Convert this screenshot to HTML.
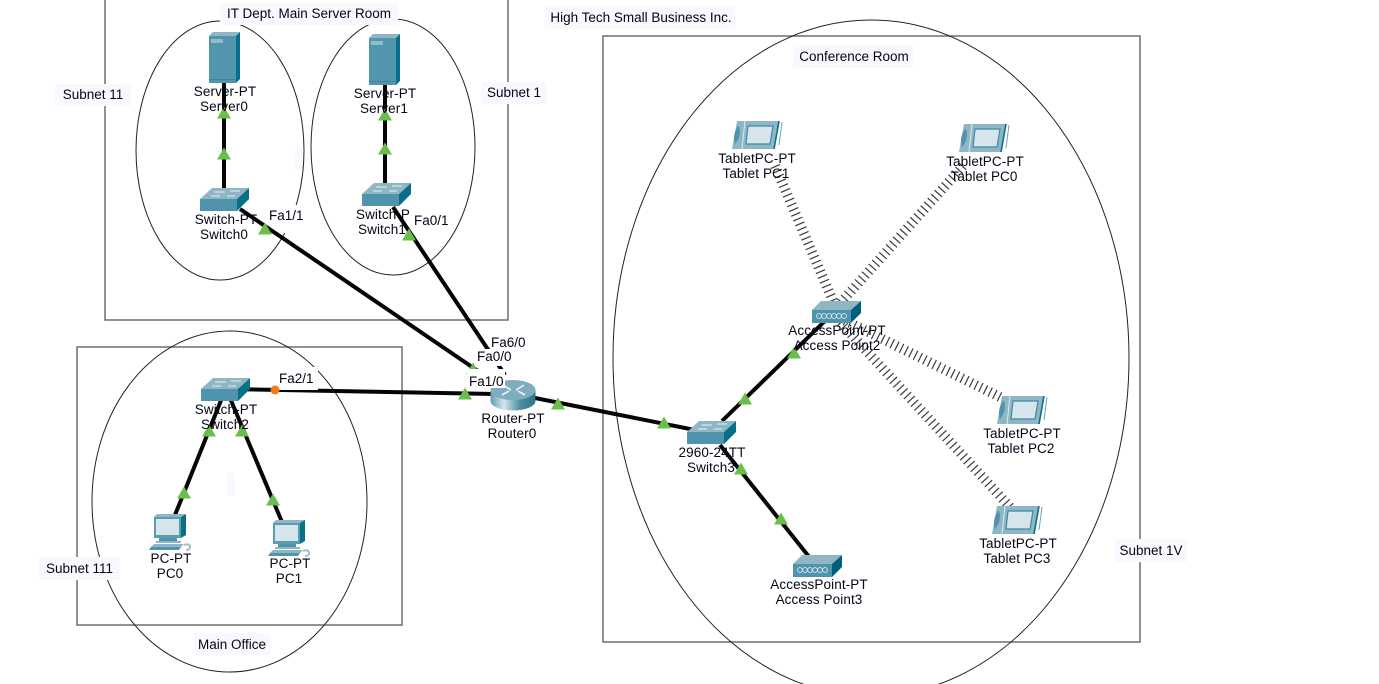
<!DOCTYPE html>
<html><head><meta charset="utf-8"><style>
html,body{margin:0;padding:0;background:#fff;width:1379px;height:684px;overflow:hidden}
svg{display:block}
text{font-family:"Liberation Sans",sans-serif;font-size:13.5px;fill:#050515}
.d{letter-spacing:.1px}
.m{text-anchor:middle}
.b{fill:#f8f8ff}
.w{fill:#fff}
.l{stroke:#050505;stroke-width:4;fill:none}
.r{fill:none;stroke:#6e6e6e;stroke-width:1.5}
.e{fill:none;stroke:#222;stroke-width:1}
.wl{stroke:#3a3a3a;stroke-width:10;stroke-dasharray:1.2 4;fill:none}
</style></head><body>
<svg width="1379" height="684" viewBox="0 0 1379 684" xmlns="http://www.w3.org/2000/svg">
<defs>
<linearGradient id="rg" x1="0" x2="1"><stop offset="0" stop-color="#5f9db0"/><stop offset=".3" stop-color="#d5e6ea"/><stop offset=".65" stop-color="#4f8ea3"/><stop offset="1" stop-color="#2f7488"/></linearGradient>
<g id="sw">
<polygon points="0,11 12,0 49,0 37,11" fill="#8fb6c4"/>
<rect x="0" y="11" width="37" height="12" fill="#4f93ad"/>
<polygon points="37,11 49,0 49,11 37,23" fill="#076f87"/>
<path d="M14,4h11M30,3h10M11,8h9M27,8h8" stroke="#e6f1f4" stroke-width="1"/>
</g>
<g id="srv">
<polygon points="0,4 4,0 31,0 27,4" fill="#8fb6c4"/>
<rect x="0" y="4" width="27" height="47" fill="#5296ae"/>
<polygon points="27,4 31,0 31,47 27,51" fill="#076f87"/>
<rect x="2" y="7" width="12" height="4" fill="#93bcc9"/>
<line x1="0" y1="47.500" x2="27" y2="47.500" stroke="#3f8299" stroke-width="1"/>
</g>
<g id="ap">
<polygon points="0,9 9,0 49,0 39,9" fill="#8fb6c4"/>
<rect x="0" y="9" width="39" height="13" fill="#4f93ad"/>
<polygon points="39,9 49,0 49,12 39,22" fill="#005f7a"/>
<g fill="none" stroke="#dcecf0" stroke-width=".9"><circle cx="7" cy="15" r="2.400"/><circle cx="12" cy="15" r="2.400"/><circle cx="17" cy="15" r="2.400"/><circle cx="22" cy="15" r="2.400"/><circle cx="27" cy="15" r="2.400"/><circle cx="32" cy="15" r="2.400"/></g>
</g>
<g id="tab">
<polygon points="5,0 47,0 42,28 0,28" fill="#8fb6c4"/>
<polygon points="16,5 41,5 38,23 14,23" fill="#d6e5eb" stroke="#3f8aa3" stroke-width="1.200"/>
<path d="M6,5 Q0,14 3,23 Q10,15 7,5Z" fill="#4f93ad"/>
<path d="M13,0 L10,28" stroke="#dcecf0" stroke-width="1"/>
<path d="M47,0 L42,28" stroke="#0a6f88" stroke-width="1.600"/>
<path d="M50,1 L47,24" stroke="#6ba6b8" stroke-width="1"/>
</g>
<g id="pc">
<polygon points="5,3 8,0 37,0 32,3" fill="#8fb6c4"/>
<rect x="5" y="3" width="27" height="21" fill="#5a9cb2"/>
<polygon points="32,3 37,0 37,21 32,24" fill="#076f87"/>
<rect x="7" y="5" width="23" height="16" fill="#d6e5eb"/>
<rect x="10" y="24" width="18" height="3" fill="#4f93ad"/>
<rect x="7" y="27" width="25" height="2" fill="#8fb6c4"/>
<polygon points="5,30 35,30 32,33 2,33" fill="#8fb6c4"/>
<polygon points="2,33 32,33 30,36 0,36" fill="#4f93ad"/>
<path d="M35,31 q6,-2 6,2 q0,3 -4,3" fill="none" stroke="#a9c0ca" stroke-width="2"/>
</g>
<polygon id="t" points="0,-6.500 7,5.500 -7,5.500" fill="#6abf4b"/>
</defs>

<rect class="r" x="105" y="-2" width="403" height="322"/>
<rect class="r" x="77" y="347" width="325" height="278"/>
<rect class="r" x="603" y="36" width="537" height="606"/>
<ellipse class="e" cx="220" cy="150.500" rx="84" ry="129.500"/>
<ellipse class="e" cx="393" cy="147" rx="82" ry="128"/>
<ellipse class="e" cx="229.500" cy="501.500" rx="137.500" ry="170.500"/>
<ellipse class="e" cx="871" cy="358" rx="258" ry="338"/>

<rect class="b" x="220" y="3" width="178" height="22"/><text class="m" x="309" y="18">IT Dept. Main Server Room</text>
<rect class="b" x="55" y="84" width="76" height="22"/><text class="m" x="93" y="99">Subnet 11</text>
<rect class="b" x="481" y="82" width="66" height="22"/><text class="m" x="514" y="97">Subnet 1</text>
<rect class="b" x="545" y="6" width="190" height="23"/><text class="m" x="641" y="22">High Tech Small Business Inc.</text>
<rect class="b" x="793" y="45" width="120" height="23"/><text class="m" x="854" y="61">Conference Room</text>
<rect class="b" x="39" y="557" width="81" height="23"/><text class="m" x="79.500" y="573">Subnet 111</text>
<rect class="b" x="194" y="633" width="76" height="22"/><text class="m" x="232" y="649">Main Office</text>
<rect class="b" x="1115" y="539" width="72" height="23"/><text class="m" x="1151" y="555">Subnet 1V</text>
<rect class="b" x="227" y="473" width="8" height="23"/>
<rect class="b" x="295" y="147" width="7" height="23"/>
<rect class="b" x="125" y="82" width="3" height="24"/>

<rect class="w" x="268" y="205" width="38" height="28"/>
<rect class="w" x="413" y="212" width="37" height="18"/>

<line class="wl" x1="775" y1="166" x2="836" y2="308"/>
<line class="wl" x1="963" y1="166" x2="836" y2="308"/>
<line class="wl" x1="1000" y1="397" x2="840" y2="318"/>
<line class="wl" x1="1010" y1="507" x2="838" y2="320"/>

<line class="l" x1="224" y1="80" x2="224" y2="192"/>
<line class="l" x1="385" y1="80" x2="385" y2="188"/>
<line class="l" x1="240" y1="209" x2="500" y2="386"/>
<line class="l" x1="393" y1="207" x2="505" y2="375"/>
<line class="l" x1="225" y1="389" x2="495" y2="394"/>
<line class="l" x1="515" y1="394" x2="700" y2="431"/>
<line class="l" x1="722" y1="421" x2="828" y2="318"/>
<line class="l" x1="720" y1="445" x2="810" y2="558"/>
<line class="l" x1="222" y1="398" x2="175" y2="515"/>
<line class="l" x1="230" y1="398" x2="282" y2="522"/>

<use href="#srv" x="209" y="32"/>
<use href="#srv" x="369" y="34"/>
<use href="#sw" x="200" y="188"/>
<use href="#sw" x="362" y="183"/>
<use href="#sw" x="201" y="378"/>
<use href="#sw" x="687" y="421"/>
<use href="#ap" x="812" y="301"/>
<use href="#ap" x="793" y="555"/>
<use href="#tab" x="732" y="121"/>
<use href="#tab" x="959" y="124"/>
<use href="#tab" x="997" y="396"/>
<use href="#tab" x="992" y="506"/>
<use href="#pc" x="149" y="514"/>
<use href="#pc" x="268" y="520"/>

<!-- router -->
<ellipse cx="513" cy="401" rx="22.500" ry="9.500" fill="url(#rg)"/>
<rect x="490.500" y="390" width="45" height="11" fill="url(#rg)"/>
<ellipse cx="513" cy="390" rx="22.500" ry="10" fill="#7fadbd"/>
<path d="M503,385l8,5M524,385l-8,5M502,395l7,-4M525,395l-7,-4" stroke="#eef5f7" stroke-width="1.600"/>

<use href="#t" x="224" y="113"/><use href="#t" x="224" y="154"/><use href="#t" x="265" y="229"/>
<use href="#t" x="385" y="115"/><use href="#t" x="385" y="149"/><use href="#t" x="409" y="235"/>
<use href="#t" x="473" y="369"/>
<use href="#t" x="558" y="404"/><use href="#t" x="664" y="423"/><use href="#t" x="465" y="394"/>
<use href="#t" x="745" y="399"/><use href="#t" x="794" y="353"/><use href="#t" x="741" y="469"/><use href="#t" x="781" y="519"/>
<use href="#t" x="184" y="493"/><use href="#t" x="209" y="431"/><use href="#t" x="242" y="431"/><use href="#t" x="273" y="500"/>

<rect class="w" x="278" y="367" width="40" height="23"/>
<circle cx="275" cy="390" r="4.500" fill="#f07a1c"/>
<text x="269" y="220">Fa1/1</text>
<text x="414" y="225">Fa0/1</text>
<text x="279" y="383">Fa2/1</text>
<text x="491" y="347">Fa6/0</text>
<rect class="w" x="475" y="349" width="39" height="17"/><text x="477" y="361">Fa0/0</text>
<rect class="w" x="467" y="369" width="38" height="19"/><text x="469" y="386">Fa1/0</text>

<g class="d">
<text class="m" x="225" y="96">Server-PT</text><text class="m" x="224" y="111">Server0</text>
<text class="m" x="385" y="98">Server-PT</text><text class="m" x="384" y="113">Server1</text>
<text class="m" x="226" y="224">Switch-PT</text><text class="m" x="224" y="239">Switch0</text>
<text class="m" x="383" y="219">Switch-P</text><text class="m" x="382" y="234">Switch1</text>
<text class="m" x="226" y="414">Switch-PT</text><text class="m" x="225" y="429">Switch2</text>
<text class="m" x="171" y="563">PC-PT</text><text class="m" x="170" y="578">PC0</text>
<text class="m" x="290" y="568">PC-PT</text><text class="m" x="289" y="583">PC1</text>
<text class="m" x="513" y="423">Router-PT</text><text class="m" x="512" y="438">Router0</text>
<text class="m" x="712" y="457">2960-24TT</text><text class="m" x="711" y="472">Switch3</text>
<text class="m" x="837" y="335">AccessPoint-PT</text><text class="m" x="837" y="350">Access Point2</text>
<text class="m" x="819" y="589">AccessPoint-PT</text><text class="m" x="819" y="604">Access Point3</text>
<text class="m" x="757" y="163">TabletPC-PT</text><text class="m" x="756" y="178">Tablet PC1</text>
<text class="m" x="985" y="166">TabletPC-PT</text><text class="m" x="984" y="181">Tablet PC0</text>
<text class="m" x="1022" y="438">TabletPC-PT</text><text class="m" x="1021" y="453">Tablet PC2</text>
<text class="m" x="1018" y="548">TabletPC-PT</text><text class="m" x="1017" y="563">Tablet PC3</text>
</g>
</svg>
</body></html>
